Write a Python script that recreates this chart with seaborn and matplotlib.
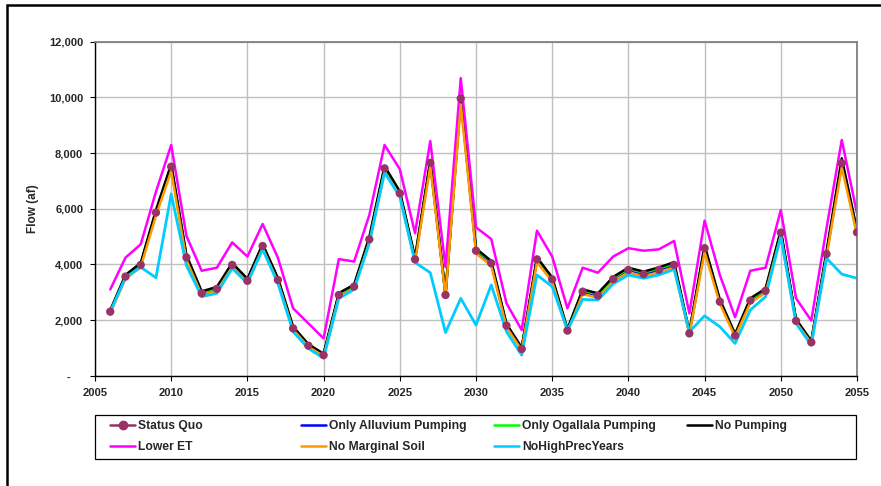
import numpy as np
import pandas as pd
import matplotlib
matplotlib.use("Agg")
import matplotlib.pyplot as plt
from matplotlib.patches import Rectangle
from matplotlib.lines import Line2D
from matplotlib.ticker import FuncFormatter, MultipleLocator
import seaborn as sns

# -----------------------------
# DATA (flow, af) 2006-2055
# -----------------------------

years = list(range(2006, 2056))

status_quo = [2300, 3560, 3980, 5860, 7510, 4250, 2960, 3120, 3980, 3410,
              4660, 3440, 1700, 1080, 740, 2900, 3200, 4900, 7450, 6550,
              4180, 7650, 2900, 9960, 4490, 4040, 1800, 960, 4180, 3460,
              1620, 3020, 2880, 3470, 3800, 3650, 3800, 3980, 1520, 4580,
              2660, 1440, 2700, 3050, 5140, 1970, 1200, 4370, 7630, 5150]

only_alluvium = [2310, 3570, 3990, 5870, 7520, 4260, 2970, 3130, 3990, 3420,
                 4670, 3450, 1710, 1090, 750, 2910, 3210, 4910, 7460, 6560,
                 4190, 7660, 2910, 9970, 4500, 4050, 1810, 970, 4190, 3470,
                 1630, 3030, 2890, 3480, 3810, 3660, 3810, 3990, 1530, 4590,
                 2670, 1450, 2710, 3060, 5150, 1980, 1210, 4380, 7640, 5160]

only_ogallala = [2320, 3590, 4010, 5900, 7550, 4290, 2990, 3150, 4010, 3440,
                 4690, 3470, 1730, 1100, 760, 2930, 3230, 4940, 7490, 6580,
                 4210, 7690, 2930, 10000, 4530, 4080, 1830, 980, 4210, 3490,
                 1650, 3060, 2920, 3510, 3840, 3700, 3850, 4030, 1550, 4630,
                 2700, 1470, 2740, 3090, 5180, 2000, 1220, 4410, 7720, 5190]

no_pumping = [2350, 3620, 4050, 5950, 7600, 4330, 3030, 3190, 4050, 3480,
              4730, 3510, 1760, 1130, 790, 2970, 3270, 4980, 7530, 6620,
              4250, 7730, 2960, 10050, 4570, 4120, 1860, 1010, 4250, 3530,
              1680, 3100, 2960, 3550, 3880, 3740, 3890, 4080, 1580, 4680,
              2740, 1500, 2780, 3130, 5220, 2030, 1250, 4460, 7810, 5230]

lower_et = [3100, 4240, 4720, 6610, 8290, 5020, 3770, 3880, 4790, 4280,
            5450, 4240, 2420, 1880, 1340, 4190, 4100, 5770, 8290, 7420,
            5120, 8430, 3900, 10690, 5330, 4910, 2600, 1640, 5210, 4280,
            2420, 3880, 3700, 4280, 4580, 4490, 4540, 4840, 2240, 5570,
            3620, 2100, 3770, 3880, 5950, 2780, 1980, 5300, 8470, 5830]

no_marginal = [2250, 3480, 3900, 5750, 7350, 4150, 2900, 3050, 3900, 3350,
               4580, 3370, 1650, 1040, 700, 2840, 3130, 4800, 7330, 6470,
               4100, 7520, 2870, 9750, 4390, 3950, 1740, 920, 4080, 3380,
               1580, 2930, 2800, 3390, 3710, 3570, 3710, 3890, 1480, 4450,
               2590, 1400, 2620, 2980, 5020, 1920, 1170, 4280, 7500, 5060]

no_high_prec = [2300, 3530, 3900, 3520, 6530, 3960, 2840, 2960, 3860, 3320,
                4540, 3320, 1580, 980, 630, 2780, 3100, 4760, 7300, 6430,
                4070, 3700, 1550, 2780, 1820, 3260, 1580, 740, 3620, 3200,
                1640, 2740, 2720, 3300, 3620, 3500, 3620, 3820, 1580, 2150,
                1760, 1160, 2360, 2840, 5000, 1880, 1100, 4220, 3650, 3500]

series_names = ["Status Quo", "Only Alluvium Pumping", "Only Ogallala Pumping",
                "No Pumping", "Lower ET", "No Marginal Soil", "NoHighPrecYears"]
series_colors = ["#993366", "#0000FF", "#00FF00", "#000000",
                 "#FF00FF", "#FF9900", "#00CCFF"]

df = pd.DataFrame({
    "Year": years,
    "Status Quo": status_quo,
    "Only Alluvium Pumping": only_alluvium,
    "Only Ogallala Pumping": only_ogallala,
    "No Pumping": no_pumping,
    "Lower ET": lower_et,
    "No Marginal Soil": no_marginal,
    "NoHighPrecYears": no_high_prec,
})

# -----------------------------
# STYLE
# -----------------------------

sns.set_style("white")
plt.rcParams['font.family'] = ['Liberation Sans', 'DejaVu Sans']

W, H = 881, 486
fig = plt.figure(figsize=(W / 100, H / 100), dpi=100)
ax = fig.add_axes([95 / W, 1 - 375.7 / H, (857 - 95) / W, (375.7 - 41.7) / H])

# -----------------------------
# LINES
# -----------------------------

for name, color in zip(series_names, series_colors):
    sns.lineplot(
        data=df,
        x="Year",
        y=name,
        color=color,
        linewidth=2.0 if name == "NoHighPrecYears" else 1.8,
        ax=ax,
        legend=False,
    )

sns.scatterplot(
    data=df,
    x="Year",
    y="Status Quo",
    color="#993366",
    s=36,
    edgecolor="none",
    zorder=10,
    ax=ax,
    legend=False,
)

# -----------------------------
# AXES
# -----------------------------

ax.set_xlim(2005, 2055)
ax.set_ylim(0, 12000)
ax.xaxis.set_major_locator(MultipleLocator(5))
ax.yaxis.set_major_locator(MultipleLocator(2000))
ax.yaxis.set_major_formatter(FuncFormatter(
    lambda v, p: "-    " if v == 0 else f"{int(v):,}"))

ax.grid(True, color="#C0C0C0", linewidth=1)
ax.set_axisbelow(True)

for side in ["left", "bottom"]:
    ax.spines[side].set_color("black")
    ax.spines[side].set_linewidth(1)
for side in ["top", "right"]:
    ax.spines[side].set_color("#808080")
    ax.spines[side].set_linewidth(1.3)

ax.tick_params(direction="out", length=3.5, width=0.8, color="black",
               labelsize=8, pad=5, bottom=True, left=True)
plt.setp(ax.get_xticklabels(), fontweight="bold")
plt.setp(ax.get_yticklabels(), fontweight="bold")

ax.set_xlabel("")
ax.set_ylabel("Flow (af)", fontsize=8.5, fontweight="bold")
ax.yaxis.set_label_coords((39 - 95) / 762, 0.5)

# -----------------------------
# LEGEND (4 fixed columns)
# -----------------------------

handles = {}
for name, color in zip(series_names, series_colors):
    if name == "Status Quo":
        handles[name] = Line2D([], [], color=color, linewidth=1.8,
                               marker="o", markersize=6)
    else:
        handles[name] = Line2D([], [], color=color, linewidth=1.8)

columns = [["Status Quo", "Lower ET"],
           ["Only Alluvium Pumping", "No Marginal Soil"],
           ["Only Ogallala Pumping", "NoHighPrecYears"],
           ["No Pumping"]]
col_x = [110, 301, 494, 687]

for names, x in zip(columns, col_x):
    fig.legend(
        [handles[n] for n in names], names,
        loc="upper left",
        bbox_to_anchor=(x / W, 1 - 420 / H),
        bbox_transform=fig.transFigure,
        frameon=False,
        borderpad=0,
        borderaxespad=0,
        handlelength=2.1,
        handletextpad=0.25,
        labelspacing=0.78,
        prop={"weight": "bold", "size": 8.7},
    )

fig.patches.append(Rectangle((95 / W, 1 - 459 / H), (856 - 95) / W, 44 / H,
                             transform=fig.transFigure, fill=False,
                             edgecolor="black", linewidth=0.9))

# outer chart frame (runs past the right and bottom edges)
fig.patches.append(Rectangle((7 / W, -0.1), 1.2, 1.1 - 5 / H,
                             transform=fig.transFigure, fill=False,
                             edgecolor="black", linewidth=1.8))

fig.savefig("out.png", dpi=100)
